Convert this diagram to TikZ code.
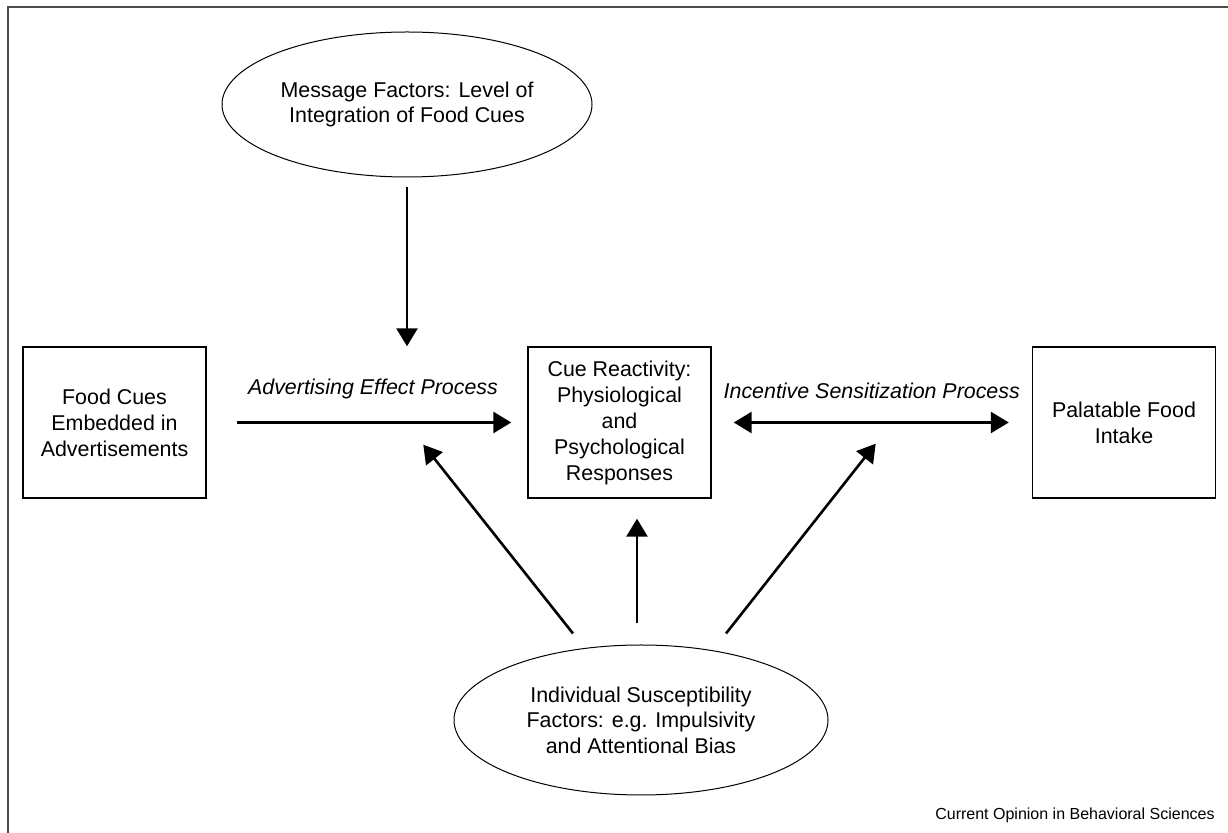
\documentclass[tikz,border=0pt]{standalone}
\usepackage{fontspec}
\setmainfont{Liberation Sans}
\usetikzlibrary{calc}
\usetikzlibrary{arrows.meta}
\usetikzlibrary{shapes.geometric}

\begin{document}
\begin{tikzpicture}[x=.5pt,y=-.5pt,
  box/.style={draw, line width=.7pt, minimum width=91.5pt, minimum height=75.5pt, align=center, font=\fontsize{10.7}{13}\selectfont},
  oval/.style={draw, ellipse, line width=.5pt, inner sep=0pt, align=center, font=\fontsize{10.7}{12.8}\selectfont},
  arr/.style={line width=1.3pt, -{Triangle[length=9pt,width=10.5pt]}},
  arrboth/.style={line width=1.3pt, {Triangle[length=9pt,width=10.5pt]}-{Triangle[length=9pt,width=10.5pt]}},
  lbl/.style={font=\fontsize{10.7}{13}\selectfont\itshape}]
\useasboundingbox (0,0) rectangle (1228,833);
\draw[black!70, line width=1pt] (8,833) -- (8,7) -- (1228,7);

\node[box] (food) at (114.5,422.5) {Food Cues\\Embedded in\\Advertisements};
\node[box] (cue) at (619.5,422.5) {Cue Reactivity:\\Physiological\\and\\Psychological\\Responses};
\node[box] (intake) at (1124,422.5) {Palatable Food\\Intake};
\node[oval, minimum width=185pt, minimum height=72.5pt] (msg) at (407,104.5) {Message Factors: Level of\\Integration of Food Cues};
\node[oval, minimum width=187pt, minimum height=75pt] (ind) at (641,720) {Individual Susceptibility\\Factors: e.g. Impulsivity\\and Attentional Bias};

% processes
\draw[arr, shorten <=15pt, shorten >=8pt] (food) -- (cue) node[lbl, midway, above=8pt, xshift=3pt] {Advertising Effect Process};
\draw[arrboth, shorten <=11pt, shorten >=11.5pt] (cue) -- (intake) node[lbl, midway, above=8pt] {Incentive Sensitization Process};
\draw[arr, shorten <=5pt] (msg.south) -- (msg.south |- cue.north);

% susceptibility
\coordinate (tipL) at ($(cue.south west)+(-104,-54)$);
\coordinate (tipR) at ($(cue.south east)+(164,-55)$);
\draw[arr] ($(ind.north)+(-68,-11)$) -- (tipL);
\draw[arr, shorten >=10pt] ($(ind.north)+(-4,-21)$) coordinate (m) -- (m |- cue.south);
\draw[arr] ($(ind.north)+(85,-11)$) -- (tipR);

\node[anchor=base east, inner sep=0pt, font=\fontsize{8}{9.5}\selectfont] (src) at (1215,820) {Current Opinion in Behavioral Sciences};
\end{tikzpicture}
\end{document}
